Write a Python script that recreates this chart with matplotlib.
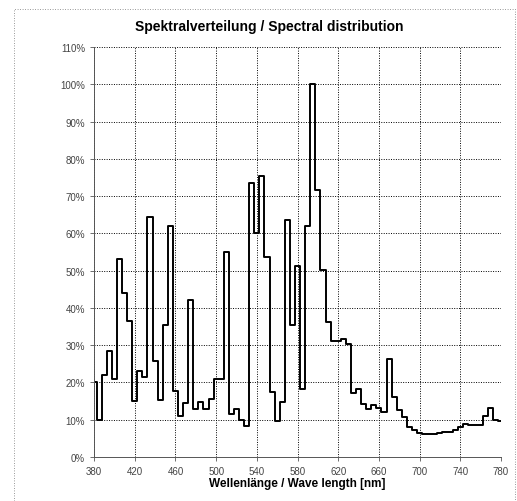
import numpy as np
import matplotlib
matplotlib.use("Agg")
import matplotlib.pyplot as plt
from matplotlib.patches import Rectangle

plt.rcParams['font.family'] = ['Liberation Sans', 'DejaVu Sans']

# Wellenlängen 380..780 nm in 5-nm-Schritten
wavelength = list(range(380, 781, 5))

# relative Werte in %
intensity = [
    20, 10, 22, 28.5, 21, 53, 44, 36.5, 15, 23,          # 380-425
    21.5, 64.5, 25.8, 15.3, 35.4, 62, 17.7, 11, 14.5, 42.2,  # 430-475
    12.8, 14.8, 12.8, 15.5, 21, 21, 55, 11.5, 12.8, 10,  # 480-525
    8.4, 73.5, 60, 75.3, 53.6, 17.4, 9.6, 14.7, 63.6, 35.4,  # 530-575
    51.3, 18.3, 62, 100, 71.7, 50.3, 36.2, 31.1, 31.1, 31.7,  # 580-625
    30.2, 17.1, 18.2, 14.2, 12.8, 13.9, 13, 12, 26.2, 16,  # 630-675
    12.5, 10.7, 8.1, 7.2, 6.3, 6, 6, 6, 6.3, 6.8,          # 680-725
    6.8, 7.2, 8.1, 8.9, 8.5, 8.5, 8.5, 11, 13, 10,         # 730-775
    9.5,                                                   # 780
]

x_ticks = list(range(380, 781, 40))
y_ticks = list(range(0, 111, 10))

fig = plt.figure(figsize=(5.17, 5.02), dpi=100)
ax = fig.add_axes([0.182, 0.088, 0.787, 0.816])

ax.plot(wavelength, intensity, drawstyle='steps-mid', color='black', linewidth=1.4)

ax.set_xlim(380, 780)
ax.set_ylim(0, 110)
ax.set_xticks(x_ticks)
ax.set_yticks(y_ticks)
ax.set_yticklabels([f"{v}%" for v in y_ticks])
ax.tick_params(labelsize=7, labelcolor='#444444', length=3, width=0.6, color='#555555')

ax.grid(True, linestyle=(0, (1, 1.5)), color='black', linewidth=0.7)
for s in ['top', 'right']:
    ax.spines[s].set_visible(False)
for s in ['left', 'bottom']:
    ax.spines[s].set_linewidth(0.7)
    ax.spines[s].set_color('#555555')

ax.set_xlabel("Wellenlänge / Wave length [nm]", fontsize=8.5, fontweight='bold', labelpad=1)
fig.text(0.52, 0.946, "Spektralverteilung / Spectral distribution",
         ha='center', va='center', fontsize=10, fontweight='bold')

# dünner Rahmen um das Diagramm
fig.patches.append(Rectangle((0.027, 0.0), 0.97, 0.98, transform=fig.transFigure,
                             fill=False, linestyle=(0, (1, 2)), linewidth=0.6,
                             edgecolor='#777777'))

fig.savefig("out.png", dpi=100)
